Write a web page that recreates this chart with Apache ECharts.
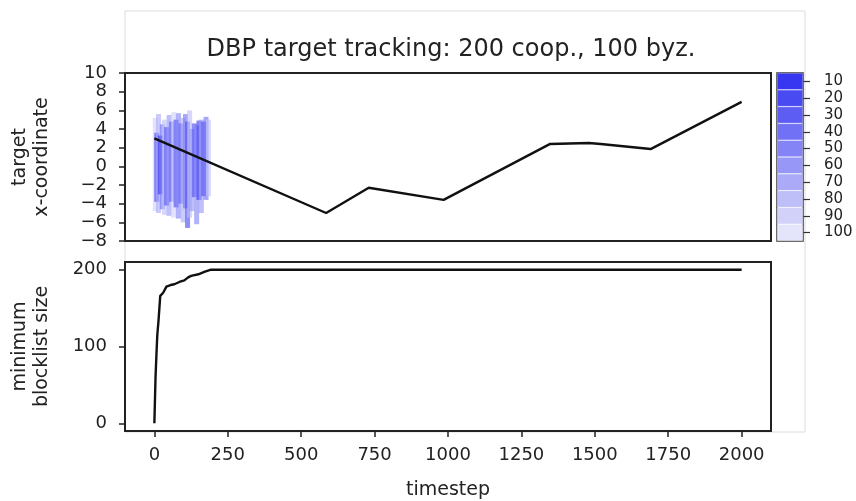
<!DOCTYPE html>
<html>
<head>
<meta charset="utf-8">
<script src="https://cdn.jsdelivr.net/npm/echarts@6/dist/echarts.min.js"></script>
<style>
  html, body { margin: 0; padding: 0; background: #fff; }
  #chart { width: 856px; height: 501px; }
</style>
</head>
<body>
<div id="chart"></div>
<script>
// target path (timestep, x-coordinate)
const targetT = [0, 585, 730, 985, 1348, 1480, 1520, 1690, 2000];
const targetX = [3.0, -5.0, -2.3, -3.6, 2.4, 2.5, 2.4, 1.85, 6.9];

// minimum blocklist size over time
const blockT = [0, 4, 7, 10, 14, 20, 30, 41, 55, 68, 85, 102, 115, 125, 150, 170, 193, 2000];
const blockS = [0, 60, 89, 115, 133, 166, 170, 178, 180, 181, 184, 186, 190, 192, 194, 197, 200, 200];

// estimate spread at early timesteps, coloured by count
const barT    = [3, 8, 14, 20, 27, 34, 42, 50, 58, 66, 74, 82, 90, 98, 106, 113, 120, 128, 136, 144, 152, 160, 168, 176, 184];
const barLow  = [-4.8, -3.8, -5.0, -3.0, -4.6, -5.2, -4.2, -5.3, -3.8, -5.5, -4.4, -5.6, -4.0, -6.0, -4.5, -6.6, -5.5, -4.8, -3.3, -6.2, -3.6, -5.0, -3.2, -3.6, -3.2];
const barHigh = [5.2, 3.6, 5.6, 3.3, 4.5, 5.0, 4.2, 5.5, 4.8, 5.8, 5.0, 5.7, 4.6, 5.2, 5.6, 4.8, 6.0, 4.0, 4.6, 4.4, 4.9, 5.0, 4.8, 5.3, 5.0];
const barCnt  = [90, 20, 70, 10, 40, 80, 20, 60, 30, 90, 20, 50, 30, 70, 40, 20, 80, 60, 20, 50, 10, 60, 20, 40, 80];

// colorbar levels and tick labels
const cbLevels = [10, 20, 30, 40, 50, 60, 70, 80, 90, 100];
const xTicks = [0, 250, 500, 750, 1000, 1250, 1500, 1750, 2000];
const blockTicks = [0, 100, 200];

const FONT = "DejaVu Sans";
const INK = "#222";

function levelColor(v, a) {
  const f = (v - 10) / 90;
  const r = Math.round(55 + f * (228 - 55));
  const g = Math.round(55 + f * (228 - 55));
  const b = Math.round(242 + f * (251 - 242));
  return a === undefined ? `rgb(${r},${g},${b})` : `rgba(${r},${g},${b},${a})`;
}

const chart = echarts.init(document.getElementById("chart"), null, { renderer: "canvas" });

const minus = (v) => String(v).replace("-", "\u2212");
const tickStyle = { color: "#222", width: 1.5 };

const option = {
  backgroundColor: "#fff",
  animation: false,
  textStyle: { fontFamily: FONT },
  title: {
    text: "DBP target tracking: 200 coop., 100 byz.",
    left: 446,
    textAlign: "center",
    top: 33,
    textStyle: { fontFamily: FONT, fontSize: 24, fontWeight: "normal", color: INK }
  },
  graphic: [{
    type: "rect",
    shape: { x: 125, y: 11, width: 680, height: 421 },
    style: { fill: "none", stroke: "#dcdcdc", lineWidth: 1 },
    z: -1
  }],
  grid: [
    { left: 125, top: 73, width: 646, height: 168, show: true, borderColor: "#222", borderWidth: 2, backgroundColor: "transparent" },
    { left: 125, top: 262, width: 646, height: 169, show: true, borderColor: "#222", borderWidth: 2, backgroundColor: "transparent" },
    { left: 777, top: 73, width: 26, height: 168, show: true, borderColor: "#333", borderWidth: 1.5, backgroundColor: "transparent" }
  ],
  xAxis: [
    {
      gridIndex: 0, type: "value", min: -100, max: 2100,
      axisLine: { show: false, onZero: false }, axisTick: { show: false },
      axisLabel: { show: false }, splitLine: { show: false }
    },
    {
      gridIndex: 1, type: "value", min: -100, max: 2100,
      name: "timestep", nameLocation: "middle", nameGap: 50,
      nameTextStyle: { fontFamily: FONT, fontSize: 19, color: INK },
      axisLine: { show: false, onZero: false },
      axisTick: { show: true, inside: false, length: 6, lineStyle: tickStyle, customValues: xTicks },
      axisLabel: { fontFamily: FONT, fontSize: 18, color: INK, margin: 15, customValues: xTicks, formatter: (v) => String(v) },
      splitLine: { show: false }
    },
    {
      gridIndex: 2, type: "value", min: 0, max: 1,
      axisLine: { show: false, onZero: false }, axisTick: { show: false },
      axisLabel: { show: false }, splitLine: { show: false }
    }
  ],
  yAxis: [
    {
      gridIndex: 0, type: "value", min: -8, max: 10, interval: 2,
      name: "target\nx-coordinate", nameLocation: "middle", nameGap: 72, nameRotate: 90,
      nameTextStyle: { fontFamily: FONT, fontSize: 19, color: INK, lineHeight: 22 },
      axisLine: { show: false, onZero: false },
      axisTick: { show: true, inside: false, length: 6, lineStyle: tickStyle },
      axisLabel: { fontFamily: FONT, fontSize: 18, color: INK, margin: 18, formatter: minus },
      splitLine: { show: false }
    },
    {
      gridIndex: 1, type: "value", min: -10, max: 210,
      name: "minimum\nblocklist size", nameLocation: "middle", nameGap: 72, nameRotate: 90,
      nameTextStyle: { fontFamily: FONT, fontSize: 19, color: INK, lineHeight: 22 },
      axisLine: { show: false, onZero: false },
      axisTick: { show: true, inside: false, length: 6, lineStyle: tickStyle, customValues: blockTicks },
      axisLabel: { fontFamily: FONT, fontSize: 18, color: INK, margin: 18, customValues: blockTicks },
      splitLine: { show: false }
    },
    {
      gridIndex: 2, type: "category", position: "right", inverse: true,
      data: cbLevels.map(String),
      axisLine: { show: false, onZero: false },
      axisTick: { show: true, alignWithLabel: true, inside: false, length: 7, lineStyle: { color: "#333", width: 1.2 } },
      axisLabel: { fontFamily: FONT, fontSize: 15, color: INK, margin: 21, interval: 0 },
      splitLine: { show: false }
    }
  ],
  series: [
    {
      type: "custom",
      xAxisIndex: 0, yAxisIndex: 0,
      data: barT.map((t, i) => [t, barLow[i], barHigh[i], barCnt[i]]),
      renderItem: function (params, api) {
        const top = api.coord([api.value(0), api.value(2)]);
        const bot = api.coord([api.value(0), api.value(1)]);
        const lvl = api.value(3);
        return {
          type: "rect",
          shape: { x: top[0] - 2.5, y: top[1], width: 5, height: bot[1] - top[1] },
          style: { fill: levelColor(lvl, 0.62) }
        };
      },
      z: 2
    },
    {
      type: "line",
      xAxisIndex: 0, yAxisIndex: 0,
      data: targetT.map((t, i) => [t, targetX[i]]),
      showSymbol: false,
      lineStyle: { color: "#111", width: 2.4 },
      z: 3
    },
    {
      type: "line",
      xAxisIndex: 1, yAxisIndex: 1,
      data: blockT.map((t, i) => [t, blockS[i]]),
      showSymbol: false,
      lineStyle: { color: "#111", width: 2.4 },
      z: 3
    },
    {
      type: "bar",
      xAxisIndex: 2, yAxisIndex: 2,
      barCategoryGap: 0,
      data: cbLevels.map((v) => ({ value: 1, itemStyle: { color: levelColor(v) } })),
      itemStyle: { borderColor: "rgba(255,255,255,0.45)", borderWidth: 0.6 },
      silent: true
    }
  ]
};

chart.setOption(option);
</script>
</body>
</html>
